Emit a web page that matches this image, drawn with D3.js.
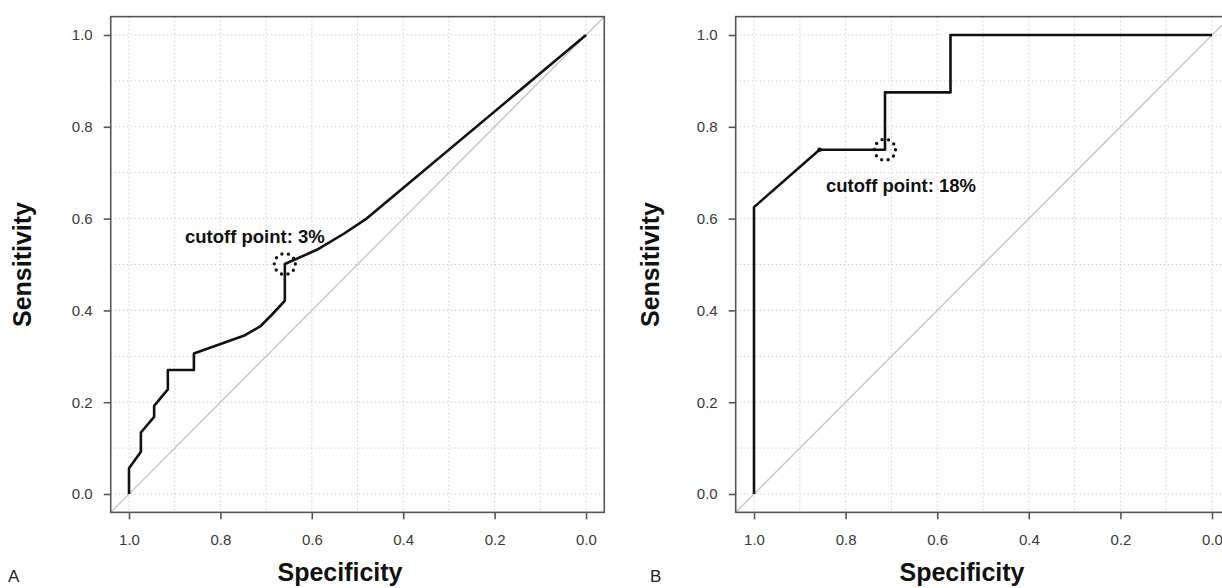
<!DOCTYPE html>
<html>
<head>
<meta charset="utf-8">
<script src="https://cdn.jsdelivr.net/npm/d3@7"></script>
<style>
  body { margin: 0; background: #fff; }
  text { font-family: "Liberation Sans", Arial, Helvetica, sans-serif; }
</style>
</head>
<body>
<div id="my_dataviz"></div>
<script>
// ROC curve of panel A (specificity, sensitivity)
var specA = [1.0, 1.0, 0.974, 0.974, 0.945, 0.945, 0.915, 0.915, 0.858, 0.858, 0.746, 0.713, 0.688, 0.659, 0.659, 0.589, 0.53, 0.48, 0.0];
var sensA = [0.0, 0.056, 0.092, 0.134, 0.168, 0.192, 0.228, 0.270, 0.270, 0.306, 0.346, 0.365, 0.390, 0.421, 0.501, 0.532, 0.567, 0.600, 1.0];

// ROC curve of panel B
var specB = [1.0, 1.0, 0.857, 0.714, 0.714, 0.571, 0.571, 0.0];
var sensB = [0.0, 0.625, 0.75, 0.75, 0.875, 0.875, 1.0, 1.0];

// cutoff points
var cutA = [0.659, 0.501];
var cutB = [0.714, 0.75];
var cutLabelA = "cutoff point: 3%";
var cutLabelB = "cutoff point: 18%";

// tick labels and grid lines
var axisTicks = [0.0, 0.2, 0.4, 0.6, 0.8, 1.0];
var gridTicks = [0.0, 0.1, 0.2, 0.3, 0.4, 0.5, 0.6, 0.7, 0.8, 0.9, 1.0];

var svg = d3.select("#my_dataviz")
    .append("svg")
    .attr("width", 1222)
    .attr("height", 588);

svg.append("rect").attr("width", 1222).attr("height", 588).attr("fill", "#fff");

function drawPanel(p) {
    var x = d3.scaleLinear().domain([1, 0]).range([p.x0, p.x1]);
    var y = d3.scaleLinear().domain([0, 1]).range([494, 35]);
    var g = svg.append("g");

    // dotted grid
    g.selectAll("vgrid").data(gridTicks).enter().append("line")
        .attr("x1", function (d) { return x(d) }).attr("x2", function (d) { return x(d) })
        .attr("y1", y(1.04)).attr("y2", y(-0.04))
        .attr("stroke", "#d0d0d0").attr("stroke-width", 1).attr("stroke-dasharray", "1.5,2.5");
    g.selectAll("hgrid").data(gridTicks).enter().append("line")
        .attr("y1", function (d) { return y(d) }).attr("y2", function (d) { return y(d) })
        .attr("x1", x(1.04)).attr("x2", x(-0.04))
        .attr("stroke", "#d0d0d0").attr("stroke-width", 1).attr("stroke-dasharray", "1.5,2.5");

    // chance diagonal
    g.append("line")
        .attr("x1", x(1.04)).attr("y1", y(-0.04))
        .attr("x2", x(-0.04)).attr("y2", y(1.04))
        .attr("stroke", "#c6c6c6").attr("stroke-width", 1.4);

    // the ROC line
    var line = d3.line()
        .x(function (d) { return x(d[0]) })
        .y(function (d) { return y(d[1]) });
    g.append("path")
        .datum(d3.zip(p.spec, p.sens))
        .attr("d", line)
        .attr("fill", "none")
        .attr("stroke", "#111")
        .attr("stroke-width", 2.6)
        .attr("stroke-linejoin", "round");

    if (p.dot) {
        g.append("circle").attr("cx", x(p.dot[0])).attr("cy", y(p.dot[1]))
            .attr("r", 2.2).attr("fill", "#111");
    }

    // cutoff marker (dotted circle)
    g.append("circle")
        .attr("cx", x(p.cut[0])).attr("cy", y(p.cut[1]))
        .attr("r", 10.5)
        .attr("fill", "none")
        .attr("stroke", "#111")
        .attr("stroke-width", 3.4)
        .attr("stroke-linecap", "round")
        .attr("stroke-dasharray", "0," + (2 * Math.PI * 10.5 / 10));

    g.append("text")
        .attr("x", p.labelX).attr("y", p.labelY)
        .text(p.label)
        .style("font-size", "18.5px")
        .style("font-weight", "bold")
        .style("fill", "#111");

    // frame
    g.append("rect")
        .attr("x", x(1.04)).attr("y", y(1.04))
        .attr("width", x(-0.04) - x(1.04))
        .attr("height", y(-0.04) - y(1.04))
        .attr("fill", "none")
        .attr("stroke", "#555")
        .attr("stroke-width", 1.6);

    // axes
    var xAxis = g.append("g")
        .attr("transform", "translate(0," + y(-0.04) + ")")
        .call(d3.axisBottom(x).tickValues(axisTicks).tickSize(7).tickSizeOuter(0)
            .tickPadding(15).tickFormat(d3.format(".1f")));
    var yAxis = g.append("g")
        .attr("transform", "translate(" + x(1.04) + ",0)")
        .call(d3.axisLeft(y).tickValues(axisTicks).tickSize(7).tickSizeOuter(0)
            .tickPadding(11).tickFormat(d3.format(".1f")));
    [xAxis, yAxis].forEach(function (a) {
        a.select(".domain").remove();
        a.selectAll(".tick line").attr("stroke", "#555").attr("stroke-width", 1.6);
        a.selectAll(".tick text").style("font-size", "15px").style("fill", "#3a3a3a")
            .style("font-family", "'Liberation Sans', Arial, sans-serif");
    });

    // axis titles
    g.append("text")
        .attr("x", p.xTitleX).attr("y", 581)
        .attr("text-anchor", "middle")
        .text("Specificity")
        .style("font-size", "25px").style("font-weight", "bold").style("fill", "#111");
    g.append("text")
        .attr("transform", "translate(" + p.yTitleX + "," + y(0.5) + ") rotate(-90)")
        .attr("text-anchor", "middle")
        .text("Sensitivity")
        .style("font-size", "25px").style("font-weight", "bold").style("fill", "#111");

    // panel letter
    g.append("text")
        .attr("x", p.letterX).attr("y", 582)
        .text(p.letter)
        .style("font-size", "17px").style("fill", "#222");
}

drawPanel({ x0: 129, x1: 586, spec: specA, sens: sensA, cut: cutA, label: cutLabelA,
    labelX: 185, labelY: 243, xTitleX: 340, yTitleX: 31, letter: "A", letterX: 8 });
drawPanel({ x0: 754, x1: 1212, spec: specB, sens: sensB, cut: cutB, label: cutLabelB,
    labelX: 826, labelY: 192, xTitleX: 962, yTitleX: 659, letter: "B", letterX: 650,
    dot: [0.857, 0.75] });
</script>
</body>
</html>
